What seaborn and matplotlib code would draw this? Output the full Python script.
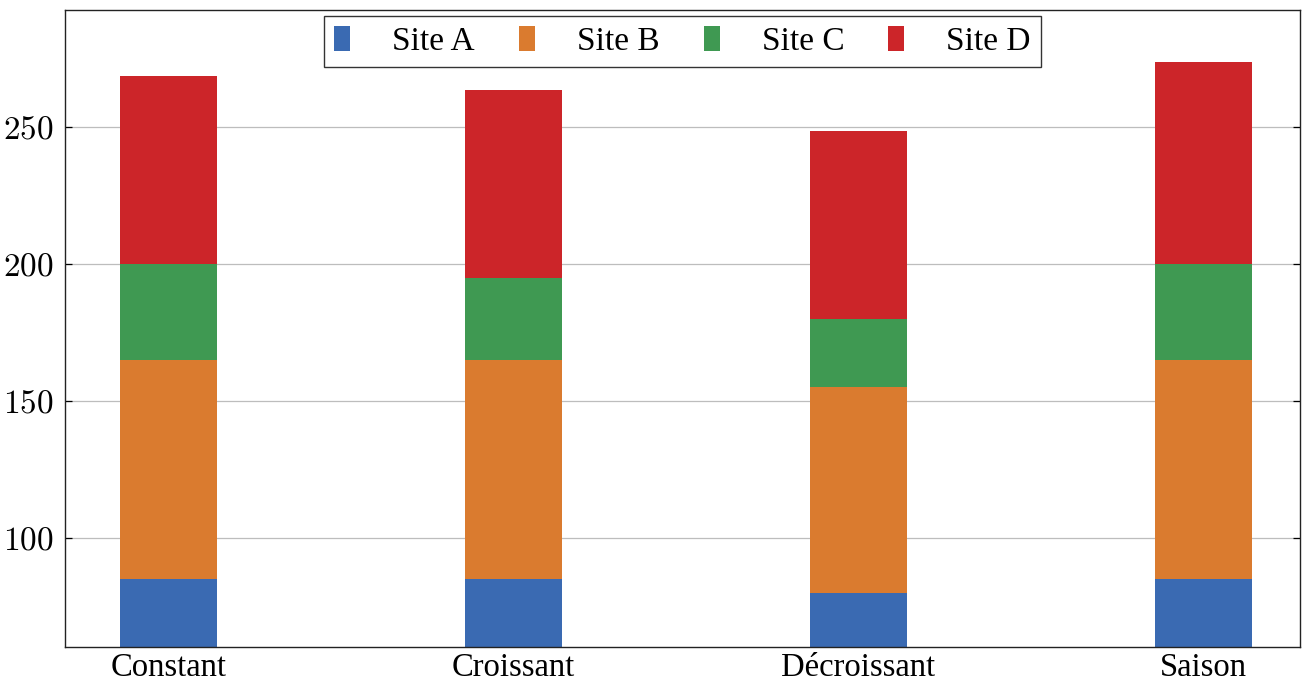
import pandas as pd
import matplotlib
matplotlib.use('Agg')
import matplotlib.pyplot as plt
import seaborn as sns
from matplotlib.patches import Patch

# --- données ---
scenarios = ['Constant', 'Croissant', 'Décroissant', 'Saison']
sites = ['Site A', 'Site B', 'Site C', 'Site D']
site_a = [85, 85, 80, 85]
site_b = [80, 80, 75, 80]
site_c = [35, 30, 25, 35]
site_d = [68.6, 68.6, 68.5, 73.6]
colors = ['#3a6ab2', '#da7b2f', '#3f9952', '#cc2529']
yticks = [100, 150, 200, 250]

sns.set_style('white')
plt.rcParams['font.family'] = ['Liberation Serif', 'DejaVu Serif']
plt.rcParams['mathtext.fontset'] = 'cm'
plt.rcParams['text.color'] = 'black'
plt.rcParams['xtick.color'] = 'black'
plt.rcParams['ytick.color'] = 'black'

df = pd.DataFrame({'scenario': scenarios, 'Site A': site_a, 'Site B': site_b,
                   'Site C': site_c, 'Site D': site_d})
# cumul pour empiler (on dessine du haut vers le bas)
cum = df[sites].cumsum(axis=1)

fig = plt.figure(figsize=(13.02, 6.84), dpi=100)
ax = fig.add_axes([0.0499, 0.0545, 0.9486, 0.9313])

for site, col in reversed(list(zip(sites, colors))):
    sns.barplot(x=df['scenario'], y=cum[site], color=col, saturation=1,
                width=0.28, linewidth=0, ax=ax, zorder=2)

ax.set_xlim(-0.3, 3.28)
ax.set_ylim(60.3, 292.8)
ax.set_yticks(yticks)
ax.set_yticklabels([f'${v}$' for v in yticks], fontsize=24)
ax.set_xticks(range(len(scenarios)))
ax.set_xticklabels(scenarios, fontsize=23.5)
ax.set_xlabel('')
ax.set_ylabel('')
ax.yaxis.grid(True, color='#bdbdbd', linewidth=0.9, zorder=0)
ax.set_axisbelow(True)
ax.tick_params(axis='y', direction='in', length=5, width=0.9,
               left=True, right=True, pad=8)
ax.tick_params(axis='x', length=0, pad=4)
for s in ax.spines.values():
    s.set_visible(True)
    s.set_color('#222222')
    s.set_linewidth(1.0)

handles = [Patch(facecolor=c, edgecolor='none') for c in colors]
leg = ax.legend(handles, sites, loc='upper center', bbox_to_anchor=(0.5, 1.0),
                ncol=4, fontsize=24, frameon=True, fancybox=False,
                edgecolor='black', handlelength=0.48, handleheight=0.8,
                handletextpad=1.26, columnspacing=1.32, borderpad=0.3,
                borderaxespad=0.18)
leg.get_frame().set_linewidth(1.0)

fig.savefig('out.png', dpi=100)
